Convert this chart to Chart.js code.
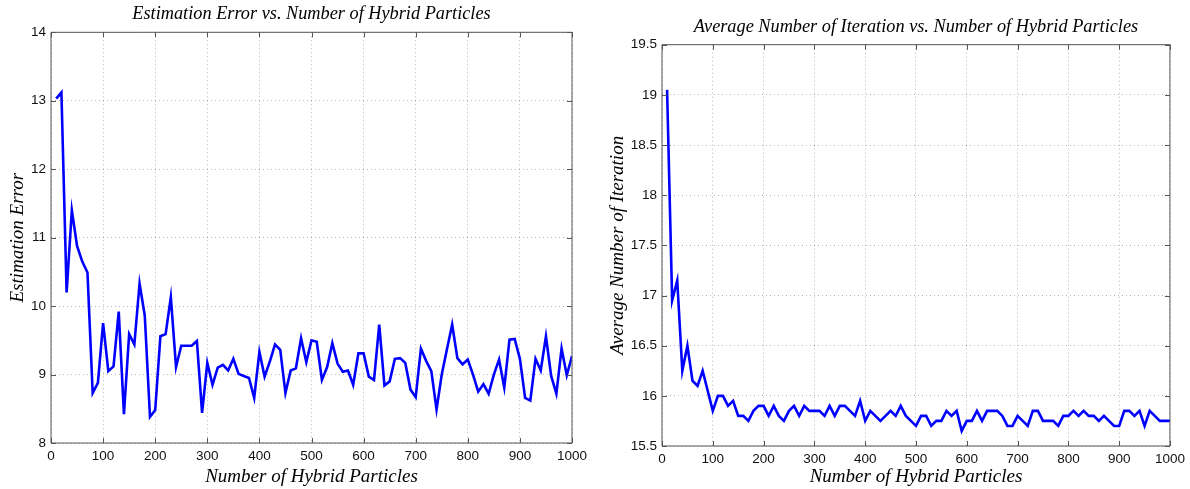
<!DOCTYPE html>
<html>
<head>
<meta charset="utf-8">
<script src="https://cdn.jsdelivr.net/npm/chart.js@4/dist/chart.umd.min.js"></script>
<style>
  html, body { margin: 0; padding: 0; background: #fff; }
  #wrap { position: relative; width: 1190px; height: 489px; }
  .panel { position: absolute; top: 0; }
</style>
</head>
<body>
<div id="wrap">
  <canvas id="errChart" class="panel" style="left:0px" width="600" height="489"></canvas>
  <canvas id="iterChart" class="panel" style="left:600px" width="590" height="489"></canvas>
</div>
<script>
// ===============================
// DATA
// ===============================

const particles = [
  10, 20, 30, 40, 50, 60, 70, 80, 90, 100,
  110, 120, 130, 140, 150, 160, 170, 180, 190, 200,
  210, 220, 230, 240, 250, 260, 270, 280, 290, 300,
  310, 320, 330, 340, 350, 360, 370, 380, 390, 400,
  410, 420, 430, 440, 450, 460, 470, 480, 490, 500,
  510, 520, 530, 540, 550, 560, 570, 580, 590, 600,
  610, 620, 630, 640, 650, 660, 670, 680, 690, 700,
  710, 720, 730, 740, 750, 760, 770, 780, 790, 800,
  810, 820, 830, 840, 850, 860, 870, 880, 890, 900,
  910, 920, 930, 940, 950, 960, 970, 980, 990, 1000
];

const estimationError = [
  13.03, 13.12, 10.20, 11.40, 10.88, 10.65, 10.49, 8.73, 8.88, 9.75,
  9.05, 9.12, 9.92, 8.42, 9.59, 9.44, 10.33, 9.86, 8.38, 8.48,
  9.56, 9.59, 10.13, 9.11, 9.42, 9.42, 9.42, 9.49, 8.44, 9.17,
  8.85, 9.10, 9.14, 9.06, 9.23, 9.01, 8.98, 8.95, 8.66, 9.33,
  8.97, 9.19, 9.44, 9.36, 8.73, 9.06, 9.09, 9.53, 9.18, 9.50,
  9.48, 8.92, 9.11, 9.46, 9.16, 9.04, 9.06, 8.85, 9.31, 9.31,
  8.97, 8.92, 9.73, 8.84, 8.90, 9.23, 9.24, 9.17, 8.78, 8.67,
  9.38, 9.20, 9.05, 8.49, 9.00, 9.37, 9.73, 9.24, 9.15, 9.22,
  9.00, 8.75, 8.86, 8.72, 9.00, 9.22, 8.81, 9.51, 9.52, 9.23,
  8.66, 8.62, 9.23, 9.06, 9.56, 8.98, 8.72, 9.38, 8.99, 9.27
];

const avgIterations = [
  19.05, 16.95, 17.15, 16.25, 16.50, 16.15, 16.10, 16.25, 16.05, 15.85,
  16.00, 16.00, 15.90, 15.95, 15.80, 15.80, 15.75, 15.85, 15.90, 15.90,
  15.80, 15.90, 15.80, 15.75, 15.85, 15.90, 15.80, 15.90, 15.85, 15.85,
  15.85, 15.80, 15.90, 15.80, 15.90, 15.90, 15.85, 15.80, 15.95, 15.75,
  15.85, 15.80, 15.75, 15.80, 15.85, 15.80, 15.90, 15.80, 15.75, 15.70,
  15.80, 15.80, 15.70, 15.75, 15.75, 15.85, 15.80, 15.85, 15.65, 15.75,
  15.75, 15.85, 15.75, 15.85, 15.85, 15.85, 15.80, 15.70, 15.70, 15.80,
  15.75, 15.70, 15.85, 15.85, 15.75, 15.75, 15.75, 15.70, 15.80, 15.80,
  15.85, 15.80, 15.85, 15.80, 15.80, 15.75, 15.80, 15.75, 15.70, 15.70,
  15.85, 15.85, 15.80, 15.85, 15.70, 15.85, 15.80, 15.75, 15.75, 15.75
];

const xTicks = [0, 100, 200, 300, 400, 500, 600, 700, 800, 900, 1000];
const errTicks = [8, 9, 10, 11, 12, 13, 14];
const iterTicks = [15.5, 16, 16.5, 17, 17.5, 18, 18.5, 19, 19.5];

// ===============================
// STYLE HELPERS
// ===============================

const SERIF = "'Liberation Serif', 'Times New Roman', serif";
const SANS = "'Liberation Sans', Arial, sans-serif";

// matlab-like box with inward tick marks + title centred over the axes
const boxPlugin = {
  id: "box",
  afterDraw(chart, args, pluginOpts) {
    const { ctx, chartArea: a, scales } = chart;
    const xs = scales.x, ys = scales.y;
    ctx.save();
    ctx.strokeStyle = "#555";
    ctx.lineWidth = 1;
    ctx.beginPath();
    ctx.rect(a.left, a.top, a.width, a.height);
    xs.ticks.forEach(t => {
      const px = Math.round(xs.getPixelForValue(t.value)) + 0.5;
      ctx.moveTo(px, a.bottom); ctx.lineTo(px, a.bottom - 5);
      ctx.moveTo(px, a.top); ctx.lineTo(px, a.top + 5);
    });
    ys.ticks.forEach(t => {
      const py = Math.round(ys.getPixelForValue(t.value)) + 0.5;
      ctx.moveTo(a.left, py); ctx.lineTo(a.left + 5, py);
      ctx.moveTo(a.right, py); ctx.lineTo(a.right - 5, py);
    });
    ctx.stroke();

    // title
    ctx.fillStyle = "#000";
    ctx.font = "italic 18.3px " + SERIF;
    ctx.textAlign = "center";
    ctx.textBaseline = "middle";
    ctx.fillText(pluginOpts.text, (a.left + a.right) / 2, a.top - 17.8);
    ctx.restore();
  }
};

function makeChart(canvasId, opts) {
  return new Chart(document.getElementById(canvasId), {
    type: "line",
    data: {
      labels: particles,
      datasets: [{
        data: opts.values,
        borderColor: "#0000ff",
        borderWidth: 2.6,
        pointRadius: 0,
        tension: 0,
        fill: false
      }]
    },
    options: {
      responsive: false,
      animation: false,
      devicePixelRatio: 1,
      layout: { padding: { left: 0, top: opts.padTop, right: opts.padRight, bottom: 0 } },
      plugins: {
        legend: { display: false },
        tooltip: { enabled: false },
        title: { display: false },
        box: { text: opts.title }
      },
      scales: {
        x: {
          type: "linear",
          min: 0,
          max: 1000,
          afterBuildTicks: s => { s.ticks = xTicks.map(v => ({ value: v })); },
          afterFit: s => { s.height = opts.xHeight; },
          ticks: { color: "#111", padding: 5, maxRotation: 0, font: { family: SANS, size: 13.5 }, callback: v => String(v) },
          grid: { color: "rgba(0,0,0,0.28)", lineWidth: 1, drawTicks: false },
          border: { display: false, dash: [1, 3] },
          title: {
            display: true,
            text: "Number of Hybrid Particles",
            color: "#000",
            font: { family: SERIF, size: 19, style: "italic", lineHeight: 1.2 },
            padding: { top: 0, bottom: 1 }
          }
        },
        y: {
          type: "linear",
          min: opts.yMin,
          max: opts.yMax,
          afterBuildTicks: s => { s.ticks = opts.yTicks.map(v => ({ value: v })); },
          afterFit: s => { s.width = opts.yWidth; },
          ticks: { color: "#111", padding: 5, font: { family: SANS, size: 13.5 }, callback: v => String(v) },
          grid: { color: "rgba(0,0,0,0.28)", lineWidth: 1, drawTicks: false },
          border: { display: false, dash: [1, 3] },
          title: {
            display: true,
            text: opts.yTitle,
            color: "#000",
            font: { family: SERIF, size: 19, style: "italic", lineHeight: 1.2 },
            padding: { top: 7, bottom: 0 }
          }
        }
      }
    },
    plugins: [boxPlugin]
  });
}

document.addEventListener("DOMContentLoaded", () => {
  makeChart("errChart", {
    values: estimationError,
    title: "Estimation Error vs. Number of Hybrid Particles",
    yTitle: "Estimation Error",
    yMin: 8, yMax: 14, yTicks: errTicks,
    padRight: 28, padTop: 32.3,
    xHeight: 46, yWidth: 51
  });

  makeChart("iterChart", {
    values: avgIterations,
    title: "Average Number of Iteration vs. Number of Hybrid Particles",
    yTitle: "Average Number of Iteration",
    yMin: 15.5, yMax: 19.5, yTicks: iterTicks,
    padRight: 20, padTop: 44.7,
    xHeight: 43, yWidth: 62
  });
});
</script>
</body>
</html>
